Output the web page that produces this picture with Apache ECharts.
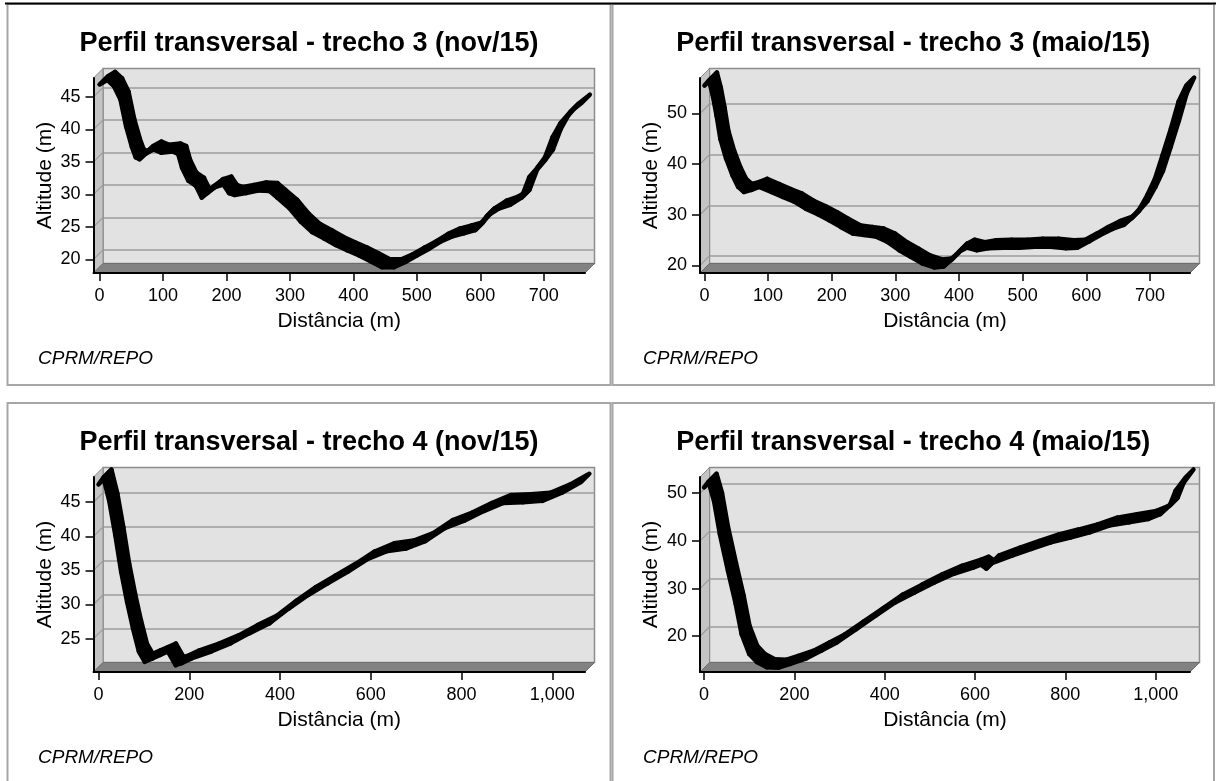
<!DOCTYPE html>
<html><head><meta charset="utf-8">
<script src="https://cdn.jsdelivr.net/npm/echarts@6/dist/echarts.min.js"></script>
<style>html,body{margin:0;padding:0;background:#fff}#c{width:1216px;height:781px}</style>
</head><body><div id="c"></div>
<script>
const FONT = '"Liberation Sans", Arial, sans-serif';

// ---------- data ----------
const titles = [
  'Perfil transversal - trecho 3 (nov/15)',
  'Perfil transversal - trecho 3 (maio/15)',
  'Perfil transversal - trecho 4 (nov/15)',
  'Perfil transversal - trecho 4 (maio/15)'
];
const xAxisName = 'Distância (m)';
const yAxisName = 'Altitude (m)';
const sourceNote = 'CPRM/REPO';

const xTicksT3 = [0, 100, 200, 300, 400, 500, 600, 700];
const xTicksT4 = [0, 200, 400, 600, 800, 1000];
const yTicksT3nov = [20, 25, 30, 35, 40, 45];
const yTicksT3mai = [20, 30, 40, 50];
const yTicksT4nov = [25, 30, 35, 40, 45];
const yTicksT4mai = [20, 30, 40, 50];

const distT3nov = [0,12,23,33,42,51,57,63,72,85,97,115,124,130,140,152,161,170,182,195,204,213,231,250,268,280,299,317,335,354,372,390,409,427,445,464,482,500,519,537,555,574,592,610,629,647,665,677,690,702,714,726,742,760];
const altT3nov  = [46.9,47.6,46.6,44.6,40.4,37.3,35.7,35.4,36.2,36.9,36.4,36.6,36.2,34.1,32.1,31.3,29.5,30.2,31.1,31.5,30.2,29.9,30.2,30.6,30.5,29.5,27.9,25.8,24.2,23.2,22.2,21.4,20.6,19.7,18.8,18.8,19.6,20.6,21.6,22.7,23.5,24.0,24.5,26.6,27.8,28.4,29.5,32.6,34.1,35.7,38.8,40.9,42.7,44.1];

const distT3mai = [0,7,13,19,25,34,44,53,62,74,86,105,123,141,159,178,196,214,233,251,269,287,306,324,342,361,376,388,400,412,428,446,470,495,519,544,568,586,604,622,641,659,671,684,696,708,720,733,745,757];
const altT3mai  = [55.5,56.5,53.6,49.6,45.0,41.1,37.8,35.5,34.5,34.9,35.5,34.5,33.5,32.6,31.2,30.1,28.9,27.6,26.3,26.0,25.7,24.7,23.0,21.7,20.4,19.6,19.8,21.1,22.7,23.5,23.0,23.4,23.5,23.5,23.7,23.7,23.4,23.5,24.7,26.0,27.2,28.0,29.3,31.2,33.9,37.1,41.8,47.0,52.3,55.5];

const distT4nov = [0,11,24,37,50,63,76,89,102,119,136,153,170,183,205,248,291,333,376,419,462,505,549,591,634,677,720,763,806,849,892,935,978,1021,1064];
const altT4nov  = [47.6,48.6,45.1,40.2,34.8,30.4,26.5,23.1,21.6,22.1,22.6,23.1,21.1,21.4,22.1,23.1,24.3,25.8,27.2,29.4,31.4,33.1,34.8,36.6,37.8,38.2,39.3,41.2,42.3,43.7,44.9,45.0,45.2,46.4,48.0];

const distT4mai = [0,10,22,35,53,70,83,100,117,139,165,191,225,260,294,337,380,423,466,510,553,596,613,625,636,682,725,768,811,854,897,941,984,1010,1031,1044,1066];
const altT4mai  = [51.2,52.4,48.4,41.4,33.7,26.8,20.5,16.3,14.6,13.5,13.4,14.2,15.3,17.0,18.7,21.5,24.3,27.1,29.2,31.3,33.1,34.4,35.0,34.2,35.3,36.9,38.3,39.7,40.7,41.8,43.2,43.9,44.6,45.6,47.4,50.5,53.3];

// ---------- layout ----------
const D = 9.5;       // 3D depth offset
const H = 195;
const RIB = 8;       // ribbon depth
const panels = [
  {title: titles[0], dist: distT3nov, alt: altT3nov, xTicks: xTicksT3, yTicks: yTicksT3nov, xMin: -9.5, xMax: 765, yMin: 17.9, yMax: 47.9, L: 93.5, T: 78, W: 491.5, bx: 7.5, by: 4, bw: 603, bh: 381},
  {title: titles[1], dist: distT3mai, alt: altT3mai, xTicks: xTicksT3, yTicks: yTicksT3mai, xMin: -7, xMax: 763, yMin: 18.5, yMax: 57, L: 700, T: 78, W: 490, bx: 612.5, by: 4, bw: 601.5, bh: 381},
  {title: titles[2], dist: distT4nov, alt: altT4nov, xTicks: xTicksT4, yTicks: yTicksT4nov, xMin: -11, xMax: 1072, yMin: 20.1, yMax: 48.7, L: 93.5, T: 477, W: 491.5, bx: 7.5, by: 403, bw: 603, bh: 400},
  {title: titles[3], dist: distT4mai, alt: altT4mai, xTicks: xTicksT4, yTicks: yTicksT4mai, xMin: -9, xMax: 1076, yMin: 12.5, yMax: 53.4, L: 700, T: 477, W: 490, bx: 612.5, by: 403, bw: 601.5, bh: 400}
];

const chart = echarts.init(document.getElementById('c'), null, {renderer: 'canvas'});
const option = {animation: false, backgroundColor: '#fff', grid: [], xAxis: [], yAxis: [], series: []};
const fmt = v => Number(v).toLocaleString('en-US');

panels.forEach((p, i) => {
  const gBack = i * 2, gFront = i * 2 + 1;
  option.grid.push({left: p.L + D, top: p.T - D, width: p.W, height: H, show: true,
    backgroundColor: '#e2e2e2', borderColor: '#8c8c8c', borderWidth: 1.5});
  option.grid.push({left: p.L, top: p.T, width: p.W, height: H});
  option.xAxis.push({gridIndex: gBack, type: 'value', min: p.xMin, max: p.xMax,
    axisLine: {show: false}, axisTick: {show: false}, axisLabel: {show: false}, splitLine: {show: false}});
  option.yAxis.push({gridIndex: gBack, type: 'value', min: p.yMin, max: p.yMax,
    axisLine: {show: false}, axisTick: {show: false, customValues: p.yTicks},
    axisLabel: {show: false, customValues: p.yTicks},
    splitLine: {show: true, lineStyle: {color: '#9c9c9c', width: 1.5}}});
  option.xAxis.push({gridIndex: gFront, type: 'value', min: p.xMin, max: p.xMax, z: 6,
    axisLine: {show: true, onZero: false, lineStyle: {color: '#000', width: 2}},
    axisTick: {show: true, customValues: p.xTicks, length: 8, lineStyle: {color: '#000', width: 1.5}},
    axisLabel: {customValues: p.xTicks, margin: 14, fontSize: 18, color: '#000', fontFamily: FONT, formatter: fmt},
    splitLine: {show: false},
    name: xAxisName, nameLocation: 'middle', nameGap: 38,
    nameTextStyle: {fontSize: 21, color: '#000', fontFamily: FONT}});
  option.yAxis.push({gridIndex: gFront, type: 'value', min: p.yMin, max: p.yMax, z: 6,
    axisLine: {show: true, onZero: false, lineStyle: {color: '#000', width: 2}},
    axisTick: {show: true, customValues: p.yTicks, length: 8, lineStyle: {color: '#000', width: 1.5}},
    axisLabel: {customValues: p.yTicks, margin: 13, fontSize: 18, color: '#000', fontFamily: FONT},
    splitLine: {show: false},
    name: yAxisName, nameLocation: 'middle', nameGap: 38,
    nameTextStyle: {fontSize: 21, color: '#000', fontFamily: FONT}});
  const segs = [];
  for (let k = 0; k < p.dist.length - 1; k++) segs.push([p.dist[k], p.alt[k], p.dist[k + 1], p.alt[k + 1]]);
  option.series.push({type: 'custom', coordinateSystem: 'cartesian2d', xAxisIndex: gFront, yAxisIndex: gFront,
    clip: false, silent: true, z: 4, data: segs, encode: {x: [0, 2], y: [1, 3]},
    renderItem: (params, api) => {
      const a = api.coord([api.value(0), api.value(1)]);
      const b = api.coord([api.value(2), api.value(3)]);
      return {type: 'polygon', shape: {points: [a, b, [b[0] + RIB, b[1] - RIB], [a[0] + RIB, a[1] - RIB]]},
        style: {fill: '#000', stroke: '#000', lineWidth: 4.5, lineJoin: 'round'}};
    }});
});

chart.setOption(option);

const g = [];
g.push({type: 'line', z: 10, shape: {x1: 5, y1: 3.5, x2: 1216, y2: 3.5}, style: {stroke: '#000', lineWidth: 2}});
panels.forEach((p, i) => {
  const gFront = i * 2 + 1;
  g.push({type: 'rect', z: 0, shape: {x: p.bx, y: p.by, width: p.bw, height: p.bh}, style: {fill: 'none', stroke: '#a6a6a6', lineWidth: 2}});
  const B = p.T + H;
  g.push({type: 'polygon', z: 1, shape: {points: [[p.L, p.T], [p.L + D, p.T - D], [p.L + D, B - D], [p.L, B]]},
    style: {fill: '#c4c4c4', stroke: '#8c8c8c', lineWidth: 1}});
  g.push({type: 'polygon', z: 1, shape: {points: [[p.L, B], [p.L + D, B - D], [p.L + p.W + D, B - D], [p.L + p.W, B]]},
    style: {fill: '#828282', stroke: '#6e6e6e', lineWidth: 1}});
  p.yTicks.forEach(v => {
    const y = chart.convertToPixel({yAxisIndex: gFront}, v);
    g.push({type: 'line', z: 2, shape: {x1: p.L, y1: y, x2: p.L + D, y2: y - D}, style: {stroke: '#9c9c9c', lineWidth: 1.2}});
  });
  const cx = p.bx + p.bw / 2;
  g.push({type: 'text', z: 10, x: cx, y: p.by + 40, style: {text: p.title, font: 'bold 27px ' + FONT, fill: '#000', align: 'center', verticalAlign: 'middle'}});
  g.push({type: 'text', z: 10, x: p.bx + 30.5, y: p.by + 355, style: {text: sourceNote, font: 'italic 19px ' + FONT, fill: '#000', align: 'left', verticalAlign: 'middle'}});
});
chart.setOption({graphic: g});
</script></body></html>
